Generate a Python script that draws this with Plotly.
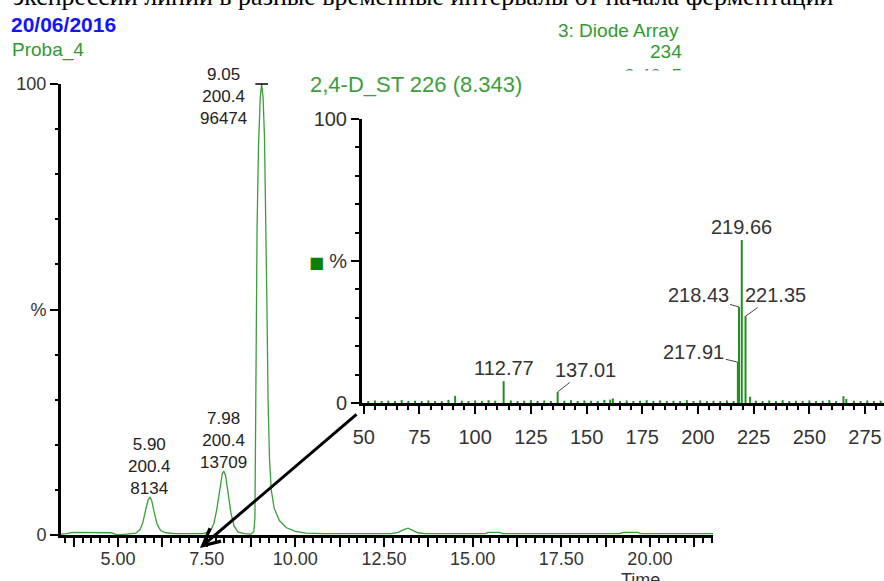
import plotly.graph_objects as go

# ---------------- data ----------------
# Main chromatogram (Diode Array, 234 nm): retention time (min) vs relative intensity (%)
chrom_time = [3.39, 3.55, 3.70, 4.00, 4.40, 4.80, 4.92, 5.00, 5.10, 5.30, 5.50, 5.62, 5.70,
              5.78, 5.85, 5.90, 5.95, 6.02, 6.10, 6.20, 6.35, 6.60, 7.00, 7.40, 7.60, 7.70,
              7.78, 7.86, 7.94, 7.98, 8.03, 8.10, 8.18, 8.27, 8.38, 8.55, 8.75, 8.83, 8.86,
              8.875, 8.89, 8.92, 8.96, 9.01, 9.05, 9.09, 9.13, 9.17, 9.20, 9.23, 9.27, 9.32,
              9.40, 9.55, 9.75, 10.00, 10.30, 10.80, 12.00, 12.70, 12.90, 13.05, 13.18, 13.30,
              13.45, 13.65, 14.50, 15.35, 15.45, 15.75, 15.85, 17.00, 19.15, 19.25, 19.65,
              19.75, 21.00, 21.78]
chrom_int = [0.2, 0.3, 0.6, 0.6, 0.6, 0.5, 0.2, 0.0, 0.1, 0.2, 0.4, 1.2, 2.8,
             5.6, 7.8, 8.4, 7.6, 5.0, 2.4, 1.0, 0.5, 0.3, 0.3, 0.3, 0.8, 2.5,
             5.5, 10.0, 13.6, 14.2, 13.2, 9.5, 5.0, 2.0, 0.7, 0.3, 0.2, 0.8, 4.0,
             20.0, 45.0, 68.0, 86.0, 97.0, 100.0, 97.0, 88.0, 70.0, 50.0, 30.0, 17.0, 10.0,
             6.0, 3.2, 1.6, 0.8, 0.4, 0.3, 0.3, 0.3, 0.6, 1.2, 1.5, 1.1,
             0.5, 0.3, 0.3, 0.3, 0.6, 0.6, 0.3, 0.3, 0.3, 0.6, 0.6,
             0.3, 0.3, 0.3]

# labelled chromatogram peaks: retention time, m/z, area
peak_rt = [5.90, 7.98, 9.05]
peak_height = [8.4, 14.2, 100.0]
peak_mass = ["200.4", "200.4", "200.4"]
peak_area = ["8134", "13709", "96474"]

# Inset spectrum "2,4-D_ST 226 (8.343)": m/z vs relative abundance (%)
spec_mz = [91.0, 112.77, 137.01, 160.6, 161.8, 217.91, 218.43, 219.66, 221.35, 223.4, 265.3, 266.6]
spec_int = [2.5, 7.7, 3.9, 1.2, 1.6, 14.4, 33.8, 57.4, 30.6, 2.2, 2.4, 1.4]

noise_mz = [52, 55, 58, 61, 64, 67, 70, 73, 76, 79, 82, 85, 88,
            94, 97, 100, 103, 106, 109,
            116, 119, 122, 125, 128, 131, 134,
            140, 143, 146, 149, 152, 155, 158,
            165, 168, 171, 174, 177, 180, 183, 186, 189, 192, 195, 198, 201, 204, 207, 210, 213, 216,
            226, 229, 232, 235, 238, 241, 244, 247, 250, 253, 256, 259, 262,
            270, 273, 276, 279, 282]
noise_int = [0.6, 0.9, 0.5, 0.8, 0.7, 1.0, 0.6, 0.8, 0.5, 0.9, 0.7, 0.6, 1.1,
             0.8, 0.6, 0.9, 0.7, 1.0, 0.8,
             0.9, 0.6, 0.8, 1.0, 0.7, 0.9, 0.6,
             0.8, 1.0, 0.7, 0.9, 0.8, 0.6, 1.1,
             0.7, 0.9, 0.6, 0.8, 1.0, 0.7, 0.9, 0.6, 0.8, 0.7, 1.0, 0.6, 0.9, 0.7, 0.8, 0.6, 0.9, 0.7,
             0.8, 0.6, 0.9, 0.7, 1.0, 0.6, 0.8, 0.7, 0.9, 0.6, 0.8, 1.0, 0.7,
             0.8, 0.6, 0.9, 0.7, 0.8]

# labelled spectrum peaks
lab_mz = [112.77, 137.01, 217.91, 218.43, 219.66, 221.35]
lab_int = [7.7, 3.9, 14.4, 33.8, 57.4, 30.6]
lab_text = ["112.77", "137.01", "217.91", "218.43", "219.66", "221.35"]

# tick labels
time_ticks = [3.75, 5.0, 6.25, 7.5, 8.75, 10.0, 11.25, 12.5, 13.75, 15.0, 16.25, 17.5, 18.75, 20.0, 21.25]
time_labels = ["", "5.00", "", "7.50", "", "10.00", "", "12.50", "", "15.00", "", "17.50", "", "20.00", ""]
mz_ticks = [50, 75, 100, 125, 150, 175, 200, 225, 250, 275]
mz_labels = ["50", "75", "100", "125", "150", "175", "200", "225", "250", "275"]
pct_ticks = [0, 50, 100]
pct_labels = ["0", "%", "100"]

# ---------------- figure ----------------
W, H = 884, 581
def px(x):
    return x / W
def py(y):
    return 1 - y / H

FONT = "Liberation Sans, Arial, sans-serif"
GREEN_T = "#2f9a2f"
TXT = "#333333"

fig = go.Figure()
fig.add_trace(go.Scatter(x=chrom_time, y=chrom_int, mode="lines",
                         line=dict(color="#3a9e3a", width=1.3),
                         xaxis="x", yaxis="y", hoverinfo="skip"))
# apex marker of the main peak
fig.add_trace(go.Scatter(x=[peak_rt[2]], y=[peak_height[2]], mode="markers", cliponaxis=False,
                         marker=dict(symbol="line-ew", size=9, line=dict(width=1.5, color="black")),
                         xaxis="x", yaxis="y", hoverinfo="skip"))
fig.add_trace(go.Bar(x=noise_mz, y=noise_int, width=0.9, marker=dict(color="#1f8f1f", line=dict(width=0)),
                     xaxis="x2", yaxis="y2", hoverinfo="skip"))
fig.add_trace(go.Bar(x=spec_mz, y=spec_int, width=0.9, marker=dict(color="#1f8f1f", line=dict(width=0)),
                     xaxis="x2", yaxis="y2", hoverinfo="skip"))

axis_common = dict(showgrid=False, zeroline=False, showline=True, linecolor="black",
                   ticks="outside", tickcolor="black", tickwidth=1.5, fixedrange=True,
                   automargin=False)

fig.update_layout(
    width=W, height=H, margin=dict(l=0, r=0, t=0, b=0, pad=0, autoexpand=False),
    paper_bgcolor="white", plot_bgcolor="rgba(0,0,0,0)",
    showlegend=False, barmode="overlay",
    font=dict(family=FONT, color=TXT),
    xaxis=dict(domain=[px(61), px(713)], range=[3.39, 21.78], anchor="y",
               linewidth=2.5, tickmode="array", tickvals=time_ticks, ticktext=time_labels,
               ticklen=9, ticklabelstandoff=-3, tickfont=dict(size=18, color=TXT, family=FONT),
               minor=dict(tick0=0, dtick=0.25, ticks="outside", ticklen=5, tickwidth=1.5, tickcolor="black"),
               **axis_common),
    yaxis=dict(domain=[py(535), py(84)], range=[0, 100], anchor="x",
               linewidth=3, tickmode="array", tickvals=pct_ticks, ticktext=pct_labels,
               ticklen=8, tickfont=dict(size=18, color=TXT, family=FONT),
               minor=dict(tick0=0, dtick=10, ticks="outside", ticklen=3, tickwidth=1.5, tickcolor="black"),
               **axis_common),
    xaxis2=dict(domain=[px(362), 1.0], range=[49.2, 283.5], anchor="y2",
                linewidth=2.5, tickmode="array", tickvals=mz_ticks, ticktext=mz_labels,
                ticklen=8, ticklabelstandoff=6, tickfont=dict(size=20, color=TXT, family=FONT),
                minor=dict(tick0=0, dtick=5, ticks="outside", ticklen=4, tickwidth=1.5, tickcolor="black"),
                **axis_common),
    yaxis2=dict(domain=[py(403), py(119)], range=[0, 100], anchor="x2",
                linewidth=3, tickmode="array", tickvals=pct_ticks, ticktext=pct_labels,
                ticklen=8, tickfont=dict(size=20, color=TXT, family=FONT),
                minor=dict(tick0=0, dtick=10, ticks="outside", ticklen=4, tickwidth=1.5, tickcolor="black"),
                **axis_common),
)

ann = []
# clipped page text above the chart
ann.append(dict(xref="paper", yref="paper", x=px(836), y=py(-3), xanchor="right", yanchor="middle",
                text="экспрессии линии в разные временные интервалы от начала ферментации",
                showarrow=False, font=dict(family="Liberation Serif, Times New Roman, serif", size=26, color="black")))
# headers
ann.append(dict(xref="paper", yref="paper", x=px(9), y=py(24), xanchor="left", yanchor="middle",
                text="<b>20/06/2016</b>", showarrow=False, font=dict(size=21, color="#1414ff", family=FONT)))
ann.append(dict(xref="paper", yref="paper", x=px(10), y=py(50), xanchor="left", yanchor="middle",
                text="Proba_4", showarrow=False, font=dict(size=19, color=GREEN_T, family=FONT)))
ann.append(dict(xref="paper", yref="paper", x=px(681), y=py(31), xanchor="right", yanchor="middle",
                text="3: Diode Array", showarrow=False, font=dict(size=19, color=GREEN_T, family=FONT)))
ann.append(dict(xref="paper", yref="paper", x=px(684), y=py(52), xanchor="right", yanchor="middle",
                text="234", showarrow=False, font=dict(size=19, color=GREEN_T, family=FONT)))
ann.append(dict(xref="paper", yref="paper", x=px(684), y=py(75), xanchor="right", yanchor="middle",
                text="2.40e5", showarrow=False, font=dict(size=19, color=GREEN_T, family=FONT)))
# white backdrop of the pasted inset, hiding the rest of the line above
ann.append(dict(xref="paper", yref="paper", x=px(620), y=py(92), xanchor="center", yanchor="middle",
                text="&nbsp;", width=170, height=40, bgcolor="white", showarrow=False,
                font=dict(size=10)))
# inset title and marker
ann.append(dict(xref="paper", yref="paper", x=px(308), y=py(84), xanchor="left", yanchor="middle",
                text="2,4-D_ST 226 (8.343)", showarrow=False, font=dict(size=22, color="#3c9e3c", family=FONT)))
ann.append(dict(xref="paper", yref="paper", x=px(316), y=py(262), xanchor="center", yanchor="middle",
                text="■", showarrow=False, font=dict(size=16, color="#0a7f0a", family="DejaVu Sans")))
# "Time" axis title (partly cut by the bottom edge)
ann.append(dict(xref="paper", yref="paper", x=px(640), y=py(580), xanchor="center", yanchor="middle",
                text="Time", showarrow=False, font=dict(size=18, color=TXT, family=FONT)))

# chromatogram peak labels
for i, (rt, h, m, a) in enumerate(zip(peak_rt, peak_height, peak_mass, peak_area)):
    txt = f"{rt:.2f}<br>{m}<br>{a}"
    if i < 2:
        ann.append(dict(xref="x", yref="y", x=rt, y=h, xanchor="center", yanchor="bottom", yshift=-3,
                        text=txt, showarrow=False, font=dict(size=17, color="#222", family=FONT)))
    else:
        ann.append(dict(xref="x", yref="y", x=rt, y=h, xanchor="center", yanchor="middle",
                        xshift=-38, yshift=-12,
                        text=txt, showarrow=False, font=dict(size=17, color="#222", family=FONT)))

# spectrum peak labels (with leader lines where present)
leader = {"137.01": (28, -22), "217.91": (-44, -10), "218.43": (-41, -12), "221.35": (30, -21)}
for mz, it, t in zip(lab_mz, lab_int, lab_text):
    if t in leader:
        ax, ay = leader[t]
        ann.append(dict(xref="x2", yref="y2", x=mz, y=it, ax=ax, ay=ay, text=t, showarrow=True,
                        arrowhead=0, arrowwidth=1, arrowcolor="#444",
                        font=dict(size=20, color=TXT, family=FONT)))
    else:
        ann.append(dict(xref="x2", yref="y2", x=mz, y=it, xanchor="center", yanchor="bottom", yshift=0,
                        text=t, showarrow=False, font=dict(size=20, color=TXT, family=FONT)))

# black arrow from the inset to the 8.34 min region
ann.append(dict(xref="paper", yref="paper", x=px(200), y=py(548), ax=158, ay=-135,
                text="", showarrow=True, arrowhead=5, arrowsize=1.1, arrowwidth=3, arrowcolor="black"))

fig.update_layout(annotations=ann)
fig.write_html("out.html", config={"displayModeBar": False},
               post_script="document.body.style.margin='0';document.body.style.overflow='hidden';")
